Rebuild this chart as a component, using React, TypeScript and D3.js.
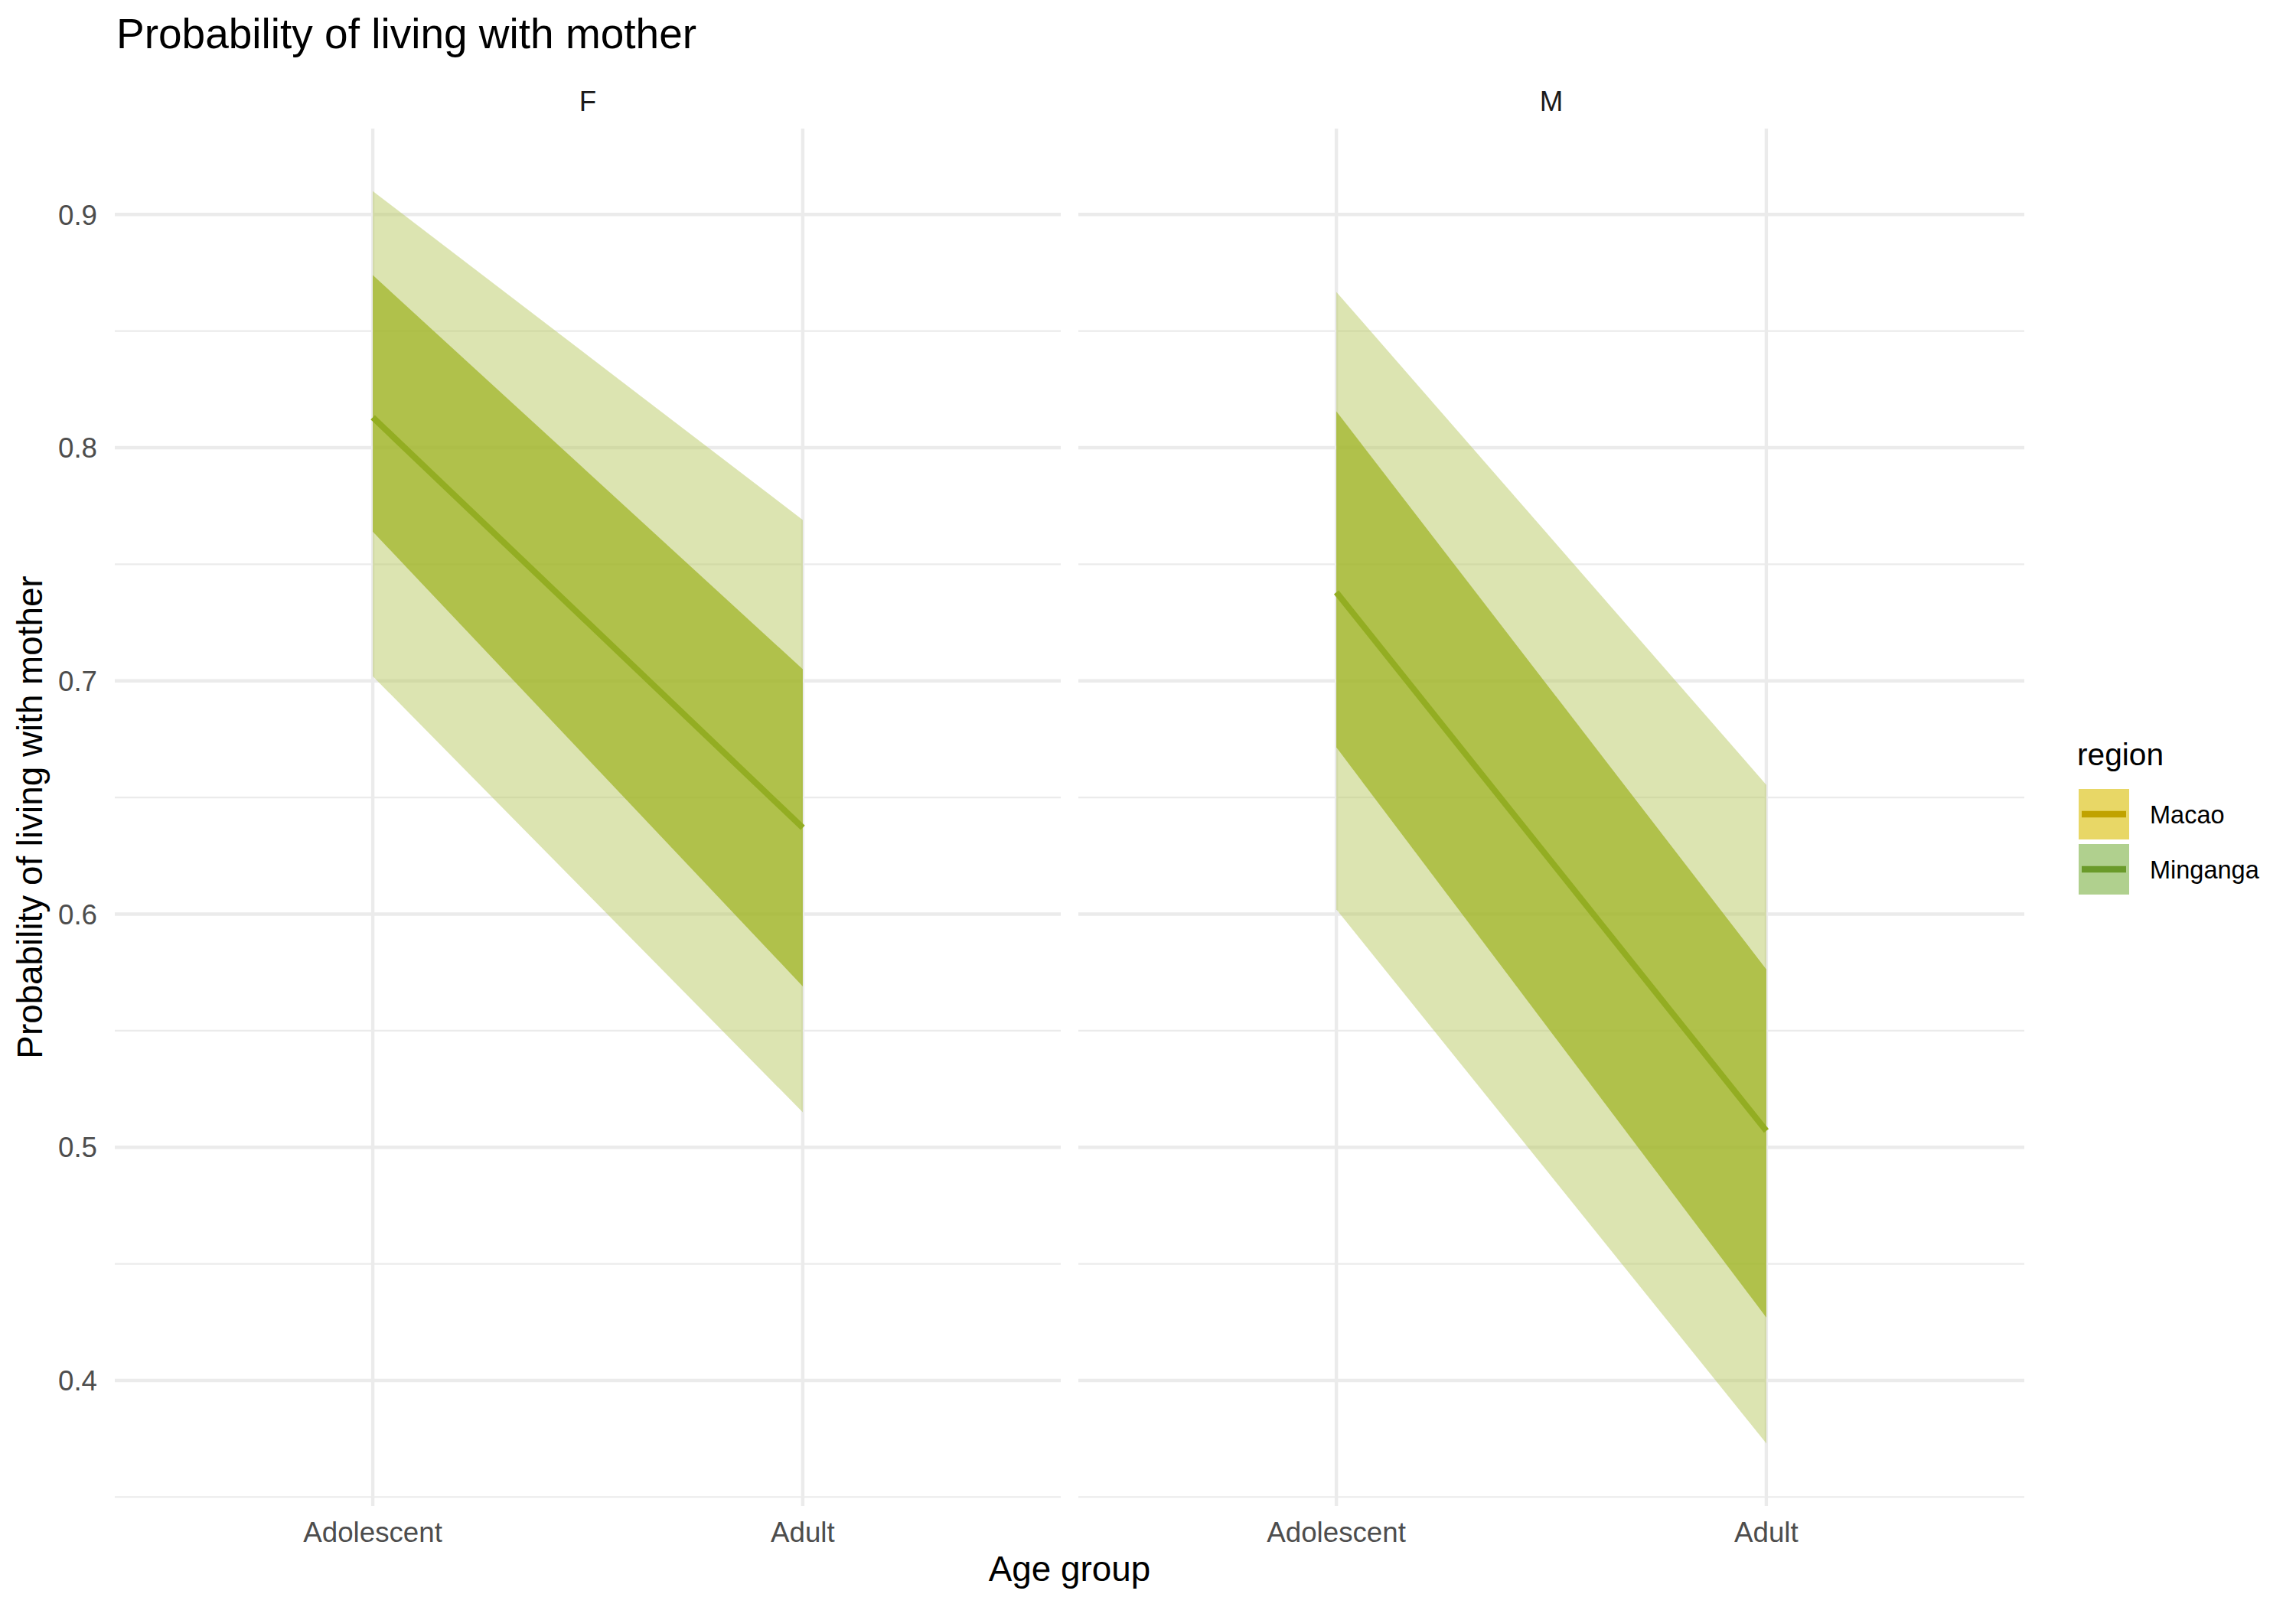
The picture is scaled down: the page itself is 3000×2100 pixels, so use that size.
import * as d3 from "d3";

// facets and categories
const sexes = ["F", "M"];
const ageGroups = ["Adolescent", "Adult"];
const yTicks = [0.4, 0.5, 0.6, 0.7, 0.8, 0.9];
const yMinor = [0.35, 0.45, 0.55, 0.65, 0.75, 0.85];

// estimates per sex, [Adolescent, Adult]
const meanF = [0.813, 0.637];
const meanM = [0.738, 0.507];
const inner50LoF = [0.764, 0.569];
const inner50HiF = [0.874, 0.705];
const outer95LoF = [0.702, 0.515];
const outer95HiF = [0.910, 0.769];
const inner50LoM = [0.6715, 0.427];
const inner50HiM = [0.8156, 0.5763];
const outer95LoM = [0.602, 0.373];
const outer95HiM = [0.8668, 0.6554];

const regions = ["Macao", "Minganga"];
const regionFill = ["#e8d766", "#b0d08e"];
const regionLine = ["#c0a200", "#6a9a2a"];

const W = 3000;
const H = 2100;
const FONT = "'Liberation Sans', Arial, Helvetica, sans-serif";

export default function App() {
  const panelTop = 168;
  const panelBottom = 1968;
  const panelW = 1236;
  const panelX = [150, 1409];

  const series = [
    { mean: meanF, iLo: inner50LoF, iHi: inner50HiF, oLo: outer95LoF, oHi: outer95HiF },
    { mean: meanM, iLo: inner50LoM, iHi: inner50HiM, oLo: outer95LoM, oHi: outer95HiM },
  ];

  const lo = d3.min(series.flatMap(s => s.oLo)) as number;
  const hi = d3.max(series.flatMap(s => s.oHi)) as number;
  const span = hi - lo;
  const y = d3.scaleLinear()
    .domain([lo - 0.05 * span, hi + 0.05 * span])
    .range([panelBottom, panelTop]);

  const x = d3.scalePoint<string>().domain(ageGroups).range([0, panelW]).padding(0.6);

  const band = (los: number[], his: number[]) =>
    d3.area<number>()
      .x((d, i) => x(ageGroups[i]) as number)
      .y0((d, i) => y(los[i]))
      .y1((d, i) => y(his[i]))(los) as string;

  const line = d3.line<number>()
    .x((d, i) => x(ageGroups[i]) as number)
    .y(d => y(d));

  return (
    <svg width={W} height={H} style={{ position: "absolute", left: 0, top: 0, background: "#fff" }}
      fontFamily={FONT}>
      <rect width={W} height={H} fill="#fff" />
      <text x={152} y={63} fontSize={55} fill="#000">Probability of living with mother</text>

      {sexes.map((sex, p) => {
        const s = series[p];
        return (
          <g key={sex} transform={`translate(${panelX[p]},0)`}>
            <text x={panelW / 2} y={145} fontSize={36.7} fill="#1a1a1a" textAnchor="middle">{sex}</text>
            {yMinor.map(v => (
              <line key={"mn" + v} x1={0} x2={panelW} y1={y(v)} y2={y(v)} stroke="#ebebeb" strokeWidth={2.2} />
            ))}
            {yTicks.map(v => (
              <line key={"mj" + v} x1={0} x2={panelW} y1={y(v)} y2={y(v)} stroke="#ebebeb" strokeWidth={4.45} />
            ))}
            {ageGroups.map(a => (
              <line key={a} x1={x(a)} x2={x(a)} y1={panelTop} y2={panelBottom} stroke="#ebebeb" strokeWidth={4.45} />
            ))}
            <path d={band(s.oLo, s.oHi)} fill="#b9c963" fillOpacity={0.5} />
            <path d={band(s.iLo, s.iHi)} fill="#9cb21f" fillOpacity={0.7} />
            <path d={line(s.mean) as string} fill="none" stroke="#93ad22" strokeWidth={8} />
            {ageGroups.map(a => (
              <text key={"t" + a} x={x(a)} y={2015} fontSize={36.7} fill="#4d4d4d" textAnchor="middle">{a}</text>
            ))}
          </g>
        );
      })}

      {yTicks.map(v => (
        <text key={"yt" + v} x={127} y={y(v)} dy="0.36em" fontSize={36.7} fill="#4d4d4d" textAnchor="end">
          {d3.format(".1f")(v)}
        </text>
      ))}

      <text x={(panelX[0] + panelX[1] + panelW) / 2} y={2066} fontSize={45.8} fill="#000" textAnchor="middle">Age group</text>
      <text transform={`translate(55,${(panelTop + panelBottom) / 2}) rotate(-90)`} fontSize={45.8} fill="#000"
        textAnchor="middle">Probability of living with mother</text>

      <g transform="translate(2714,0)">
        <text x={0} y={1000} fontSize={40.7} fill="#000">region</text>
        {regions.map((r, i) => {
          const top = 1031 + i * 72;
          return (
            <g key={r}>
              <rect x={2} y={top} width={66} height={66} fill={regionFill[i]} />
              <line x1={6} x2={64} y1={top + 33} y2={top + 33} stroke={regionLine[i]} strokeWidth={8.7} />
              <text x={95} y={top + 33} dy="0.36em" fontSize={32.5} fill="#000">{r}</text>
            </g>
          );
        })}
      </g>
    </svg>
  );
}
